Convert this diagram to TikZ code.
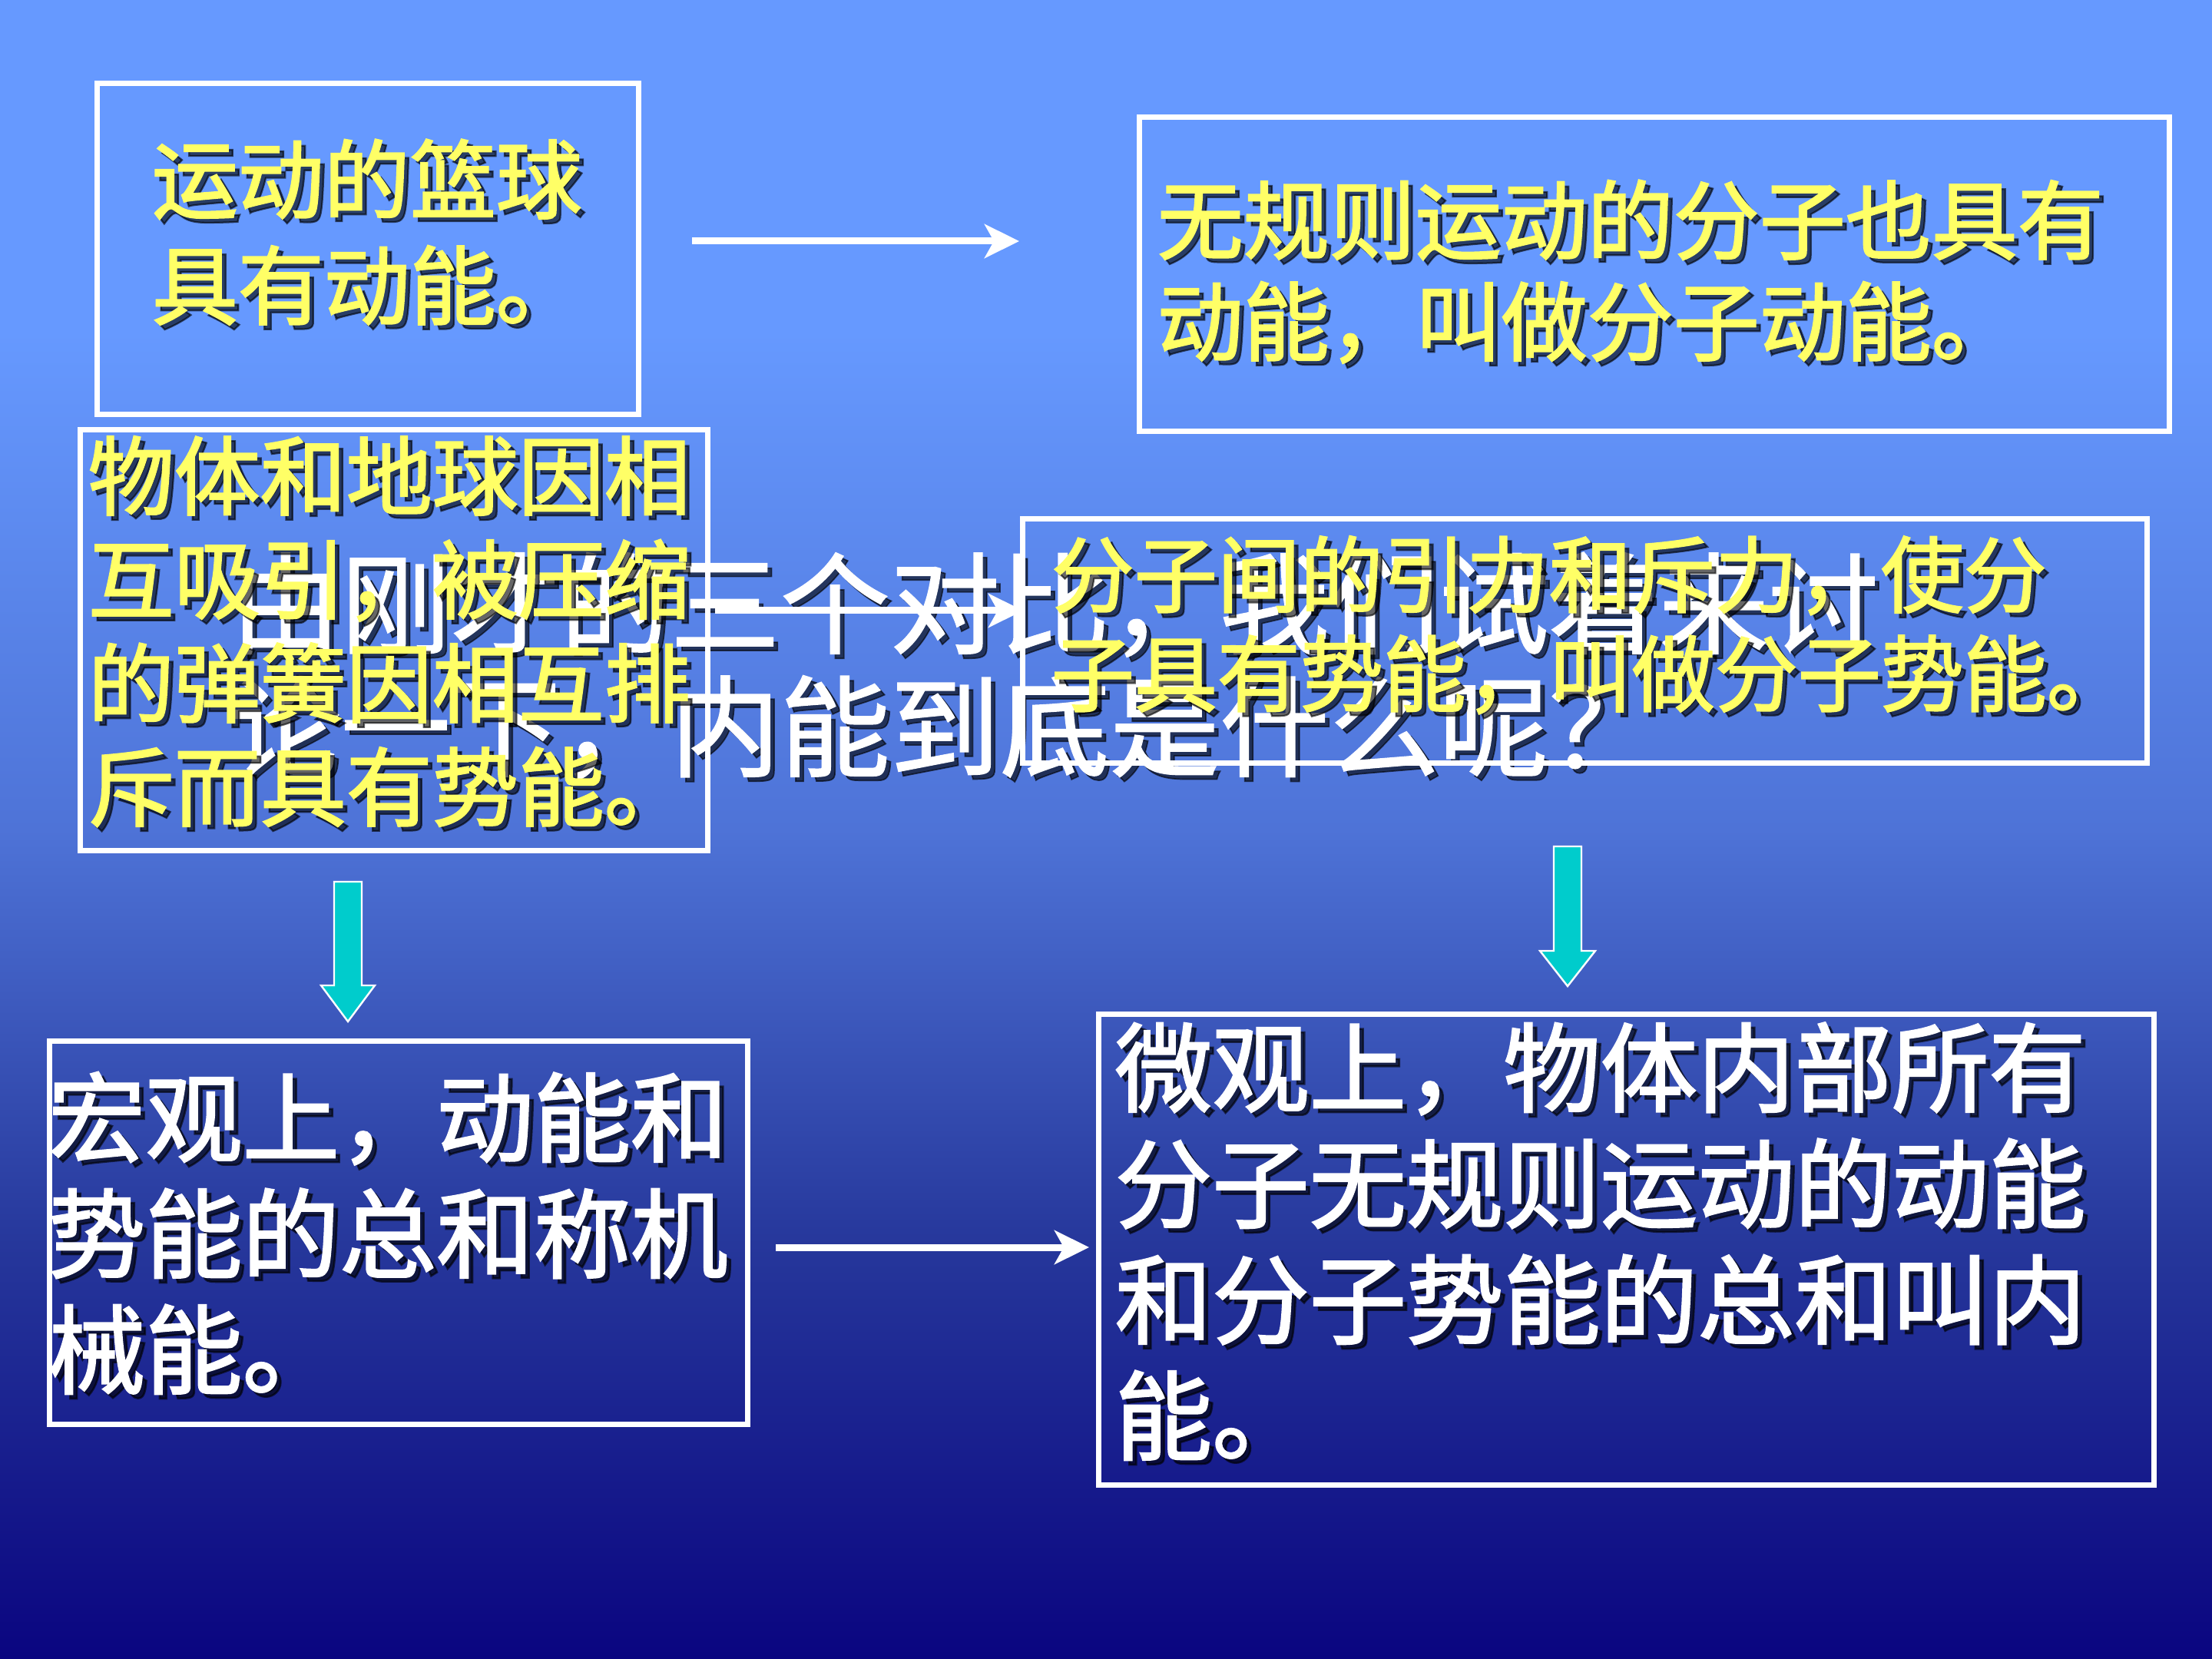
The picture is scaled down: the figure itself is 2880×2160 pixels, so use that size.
\documentclass[tikz,border=0pt]{standalone}
\usepackage{fontspec}
\newfontfamily\cjk{Noto Sans CJK SC}
\newfontfamily\cjkmed{Noto Sans CJK SC}[FakeBold=2]
\newfontfamily\cjkmid{Noto Sans CJK SC}[FakeBold=1.2]
\usetikzlibrary{arrows.meta}
\definecolor{bgtop}{RGB}{102,153,255}
\definecolor{bgmid}{RGB}{78,115,215}
\definecolor{bglow}{RGB}{38,55,155}
\definecolor{bgbot}{RGB}{10,5,128}
\definecolor{ytext}{RGB}{255,255,102}
\definecolor{cyanarrow}{RGB}{0,204,204}
\pgfdeclareverticalshading{bgshade}{100bp}{color(0bp)=(bgbot); color(25bp)=(bgbot); color(37.5bp)=(bglow); color(50bp)=(bgmid); color(65bp)=(bgtop); color(100bp)=(bgtop)}
\newcommand\shline[5]{\node[#1,shadowtxt] (#2s) at (#3+6,#4+6) {#5};\node[#1] (#2) at (#3,#4) {#5};}
\begin{document}
\begin{tikzpicture}[x=0.25pt,y=-0.25pt,
  box/.style={draw=white, line width=1.75pt, inner sep=0pt, anchor=north west},
  tbase/.style={anchor=base west, inner sep=0pt},
  tyel/.style={tbase, text=ytext, font=\cjkmed\fontsize{28pt}{34pt}\selectfont},
  tyelb/.style={tbase, text=ytext, font=\cjkmed\fontsize{27pt}{32pt}\selectfont},
  twhite/.style={tbase, text=white, font=\cjkmed\fontsize{31.6pt}{38pt}\selectfont},
  tmid/.style={tbase, text=white, font=\cjkmid\fontsize{35.75pt}{40pt}\selectfont},
  shadowtxt/.style={text=black, text opacity=0.6},
  warrow/.style={draw=white, line width=2.25pt, -{Stealth[length=11.25pt,width=11pt,inset=3pt]}},
  cyanarr/.style={fill=cyanarrow, draw=white, line width=0.6pt, line join=miter}]
\useasboundingbox (0,0) rectangle (2880,2160);
\shade[shading=bgshade] (0,0) rectangle (2880,2160);
% middle question text
\shline{tmid}{m1}{300}{840}{由刚才的三个对比，我们试着来讨}
\shline{tmid}{m2}{300}{1000}{论一下，内能到底是什么呢？}
% boxes
\node[box, minimum width=176.25pt, minimum height=107.75pt] (b1) at (123,105) {};
\node[box, minimum width=335.25pt, minimum height=102.25pt] (b2) at (1480,149) {};
\node[box, minimum width=204.25pt, minimum height=137pt] (b3) at (101,556) {};
\node[box, minimum width=366pt, minimum height=79.5pt] (b4) at (1328,672) {};
\node[box, minimum width=227.25pt, minimum height=124.75pt] (b5) at (61,1352) {};
\node[box, minimum width=343.5pt, minimum height=153.25pt] (b6) at (1427,1317) {};
% white arrows
\coordinate (a1s) at (901,314); \coordinate (a1e) at (1327,314);
\coordinate (a2s) at (931,795); \coordinate (a2e) at (1332,795);
\coordinate (a3s) at (1010,1624); \coordinate (a3e) at (1418,1624);
\draw[warrow] (a1s) -- (a1e);
\draw[warrow] (a2s) -- (a2e);
\draw[warrow] (a3s) -- (a3e);
% cyan block arrows
\coordinate (c1) at (453,1148);
\coordinate (c2) at (2041,1102);
\draw[cyanarr] (c1) ++(-18,0) -- ++(36,0) -- ++(0,135) -- ++(17,0) -- ++(-35,47) -- ++(-35,-47) -- ++(17,0) -- cycle;
\draw[cyanarr] (c2) ++(-18,0) -- ++(36,0) -- ++(0,136) -- ++(18,0) -- ++(-36,46) -- ++(-36,-46) -- ++(18,0) -- cycle;
% box texts
\shline{tyel}{t1a}{197}{276}{运动的篮球}
\shline{tyel}{t1b}{197}{414}{具有动能。}
\shline{tyel}{t2a}{1506}{329}{无规则运动的分子也具有}
\shline{tyel}{t2b}{1506}{461}{动能，叫做分子动能。}
\shline{tyel}{t3a}{114}{662}{物体和地球因相}
\shline{tyel}{t3b}{114}{797}{互吸引，被压缩}
\shline{tyel}{t3c}{114}{932}{的弹簧因相互排}
\shline{tyel}{t3d}{114}{1067}{斥而具有势能。}
\shline{tyelb}{t4a}{1368}{789}{分子间的引力和斥力，使分}
\shline{tyelb}{t4b}{1368}{918}{子具有势能，叫做分子势能。}
\shline{twhite}{t5a}{62}{1503}{宏观上，动能和}
\shline{twhite}{t5b}{62}{1654}{势能的总和称机}
\shline{twhite}{t5c}{62}{1805}{械能。}
\shline{twhite}{t6a}{1451}{1438}{微观上，物体内部所有}
\shline{twhite}{t6b}{1451}{1589}{分子无规则运动的动能}
\shline{twhite}{t6c}{1451}{1740}{和分子势能的总和叫内}
\shline{twhite}{t6d}{1451}{1891}{能。}
\end{tikzpicture}
\end{document}
